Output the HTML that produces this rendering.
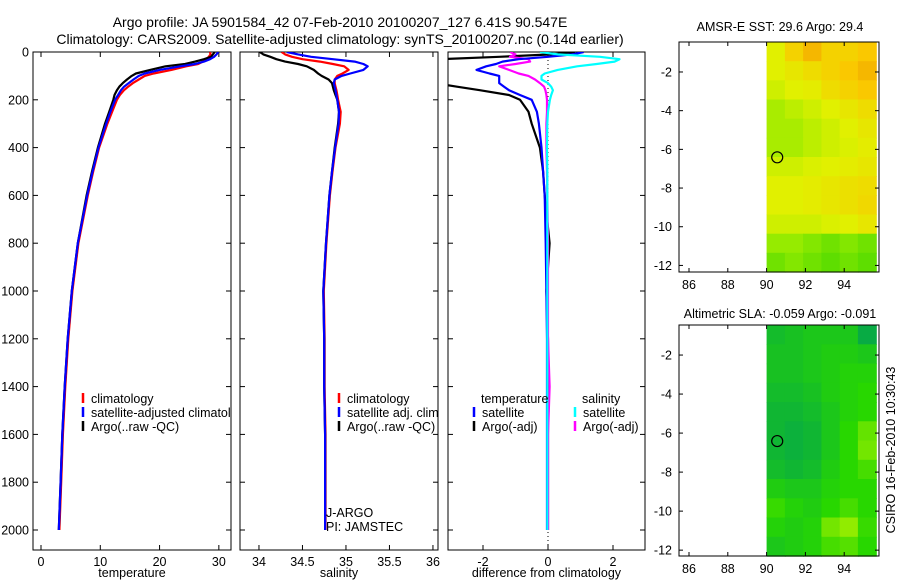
<!DOCTYPE html>
<html><head><meta charset="utf-8"><style>
html,body{margin:0;padding:0;background:#fff;}
svg{display:block;font-family:"Liberation Sans",sans-serif;}
</style></head><body>
<svg id="c" width="900" height="580" viewBox="0 0 900 580" xmlns="http://www.w3.org/2000/svg">
<defs>
<clipPath id="cp1"><rect x="33" y="52" width="198" height="498"/></clipPath>
<clipPath id="cp2"><rect x="240" y="52" width="198" height="498"/></clipPath>
<clipPath id="cp3"><rect x="448" y="52" width="197" height="498"/></clipPath>
</defs>
<text x="340" y="27" font-size="14" text-anchor="middle">Argo profile: JA 5901584_42 07-Feb-2010 20100207_127 6.41S 90.547E</text>
<text x="340" y="44" font-size="14" text-anchor="middle">Climatology: CARS2009. Satellite-adjusted climatology: synTS_20100207.nc (0.14d earlier)</text>
<text x="780" y="31" font-size="12.5" text-anchor="middle">AMSR-E SST: 29.6 Argo: 29.4</text>
<text x="780" y="318" font-size="12.5" text-anchor="middle">Altimetric SLA: -0.059 Argo: -0.091</text>
<text transform="translate(895,450) rotate(-90)" font-size="12.5" text-anchor="middle">CSIRO 16-Feb-2010 10:30:43</text>
<g id="g"></g>
</svg>
<script>
const depth=[0,10,20,30,40,50,60,75,90,100,115,130,145,160,180,200,250,300,400,500,600,800,1000,1200,1400,1600,1800,2000];
const tempClim=[28.5,28.6,28.3,27.8,27.3,26.5,24.5,22,19,17.5,16.5,15.5,14.7,14,13.3,12.8,12,11.2,9.8,8.8,7.9,6.3,5.3,4.6,4.1,3.7,3.4,3.1];
const tempSat=[29.9,29.6,29.2,28.5,27.5,26,23.5,20,17.5,16.5,15.6,14.8,14,13.5,13,12.5,11.7,11,9.7,8.7,7.8,6.2,5.2,4.5,4.0,3.6,3.3,3.0];
const tempArgo=[29.3,29,28.7,27.5,26,24.3,21,18.4,16,15.3,14.5,13.8,13.2,12.8,12.4,12.2,11.5,10.8,9.6,8.6,7.7,6.2,5.2,4.5,4.0,3.6,3.3,3.0];
const salClim=[34.26,34.3,34.38,34.5,34.7,34.85,34.98,35.03,34.96,34.9,34.87,34.87,34.88,34.89,34.9,34.91,34.94,34.93,34.88,34.845,34.815,34.775,34.745,34.755,34.755,34.765,34.765,34.765];
const salSat=[34.32,34.45,34.6,34.85,35.1,35.2,35.25,35.2,35.05,34.95,34.87,34.86,34.87,34.88,34.89,34.9,34.92,34.915,34.875,34.84,34.81,34.77,34.74,34.75,34.75,34.76,34.76,34.76];
const salArgo=[34.01,34.05,34.13,34.2,34.3,34.45,34.55,34.63,34.68,34.72,34.8,34.84,34.85,34.86,34.88,34.9,34.92,34.91,34.87,34.84,34.81,34.77,34.74,34.75,34.75,34.76,34.76,34.76];
const dTempSat=[1.1,0.75,0,-0.9,-1.4,-1.6,-1.9,-2.2,-1.8,-1.5,-1.5,-1.5,-1.35,-1.2,-0.86,-0.5,-0.34,-0.28,-0.2,-0.15,-0.1,-0.07,-0.05,-0.03,-0.03,-0.03,-0.03,-0.03];
const dTempArgo=[0.83,0.1,-1.5,-3.3,-4,-4,-4,-4,-4,-4,-4,-3.5,-2.8,-2.1,-1.2,-0.86,-0.6,-0.5,-0.25,-0.15,-0.1,0.05,-0.05,0,0,0,0,0];
const dSalSat=[-0.25,0.3,1.6,2.2,2.05,1.5,0.9,0.3,-0.1,-0.2,-0.2,0,0.1,0.15,0.1,0.06,0,-0.02,-0.03,-0.02,-0.02,-0.02,-0.02,-0.02,-0.02,-0.02,-0.02,-0.02];
const dSalArgo=[-1.17,-1.0,-1.17,-0.6,-0.55,-1.0,-1.5,-1.2,-0.9,-0.6,-0.4,-0.25,-0.12,-0.08,-0.05,-0.03,-0.03,-0.05,-0.05,-0.03,-0.02,0,0,0,0.05,0,0,0];
const depthTicks=[0,200,400,600,800,1000,1200,1400,1600,1800,2000];
const tempTicks=[0,10,20,30];
const salTicks=[34,34.5,35,35.5,36];
const diffTicks=[-2,0,2];
const sstGrid=[
[.6,.75,.85,.75,.75,.8],[.6,.65,.7,.75,.8,.85],[.55,.6,.62,.7,.75,.8],[.45,.5,.55,.6,.65,.7],
[.45,.45,.5,.55,.6,.65],[.45,.45,.5,.55,.58,.62],[.55,.55,.58,.6,.62,.65],[.6,.6,.62,.65,.68,.7],
[.6,.6,.62,.65,.68,.72],[.55,.55,.55,.58,.6,.65],[.4,.4,.35,.3,.35,.3],[.3,.35,.3,.25,.3,.25]];
const slaGrid=[
[.25,.3,.35,.35,.35,.1],[.3,.3,.35,.4,.4,.35],[.3,.3,.35,.4,.45,.45],[.25,.25,.3,.4,.45,.5],
[.2,.2,.25,.35,.45,.5],[.2,.15,.2,.35,.5,.7],[.2,.15,.2,.35,.5,.75],[.25,.2,.25,.4,.5,.6],
[.4,.35,.35,.45,.5,.5],[.55,.45,.4,.5,.6,.5],[.45,.4,.45,.75,.85,.55],[.35,.4,.45,.6,.65,.5]];
const lonTicks=[86,88,90,92,94];
const latTicks=[-2,-4,-6,-8,-10,-12];
const floatLon=90.547, floatLat=-6.41;

const NS='http://www.w3.org/2000/svg';
const G=document.getElementById('g');
function el(t,a,p){const e=document.createElementNS(NS,t);for(const k in a)e.setAttribute(k,a[k]);(p||G).appendChild(e);return e;}
function txt(x,y,s,anchor,size,p){const e=el('text',{x:x,y:y,'font-size':size||12.5,'text-anchor':anchor||'middle'},p);e.textContent=s;return e;}

const Y0=52,Y1=550;
const yD=d=>Y0+d*0.239;
function panel(name,x0,x1,vmin,vmax,xt,xtl,label,showY,clip){
  const xS=v=>x0+(v-vmin)/(vmax-vmin)*(x1-x0);
  const g=el('g',{});
  
  
  el('rect',{x:x0,y:Y0,width:x1-x0,height:Y1-Y0,fill:'none',stroke:'#000','stroke-width':1},g);
  xt.forEach((v,i)=>{const x=xS(v);
    el('line',{x1:x,y1:Y1,x2:x,y2:Y1-5,stroke:'#000'},g);
    el('line',{x1:x,y1:Y0,x2:x,y2:Y0+5,stroke:'#000'},g);
    const t=txt(x,566,xtl[i],'middle',12.5,g);
    
    });
  depthTicks.forEach(d=>{const y=yD(d);
    el('line',{x1:x0,y1:y,x2:x0+5,y2:y,stroke:'#000'},g);
    el('line',{x1:x1,y1:y,x2:x1-5,y2:y,stroke:'#000'},g);
    if(showY){const t=txt(29,y+4.5,String(d),'end',12.5,g);
      
      }});
  const xl=txt((x0+x1)/2,577,label,'middle',12.5,g);
  
  
  const cg=el('g',{'clip-path':'url(#'+clip+')'},g);
  return {xS,g,cg};
}
function series(P,vals,color,name){
  let d='';vals.forEach((v,i)=>{d+=(i?'L':'M')+P.xS(v).toFixed(1)+' '+yD(depth[i]).toFixed(1);});
  const p=el('path',{d:d,fill:'none',stroke:color,'stroke-width':2.2,'stroke-linejoin':'round'},P.cg);
  
  
}
function legendRow(P,x,y,color,label,name){
  const r=el('g',{},P.cg);
  
  
  el('line',{x1:x,y1:y-10,x2:x,y2:y,stroke:color,'stroke-width':2.5},r);
  txt(x+8,y,label,'start',12.5,r);
}

const P1=panel('temperature-panel',33,231,-1.35,32.05,tempTicks,tempTicks.map(String),'temperature',true,'cp1');
series(P1,tempClim,'#f00','temp-climatology-line');
series(P1,tempArgo,'#000','temp-argo-line');
series(P1,tempSat,'#00f','temp-satellite-line');
legendRow(P1,83,403,'#f00','climatology','legend-climatology');
legendRow(P1,83,417,'#00f','satellite-adjusted climatology','legend-satellite');
legendRow(P1,83,431,'#000','Argo(..raw -QC)','legend-argo');

const P2=panel('salinity-panel',240,438,33.782,36.058,salTicks,['34','34.5','35','35.5','36'],'salinity',false,'cp2');
series(P2,salClim,'#f00','sal-climatology-line');
series(P2,salArgo,'#000','sal-argo-line');
series(P2,salSat,'#00f','sal-satellite-line');
legendRow(P2,339,403,'#f00','climatology','legend-climatology');
legendRow(P2,339,417,'#00f','satellite adj. clim.','legend-satellite');
legendRow(P2,339,431,'#000','Argo(..raw -QC)','legend-argo');
txt(326,517,'J-ARGO','start',12.5,P2.g);
txt(326,531,'PI: JAMSTEC','start',12.5,P2.g);

const P3=panel('difference-panel',448,645,-3.077,2.985,diffTicks,['-2','0','2'],'difference from climatology',false,'cp3');
el('line',{x1:P3.xS(0),y1:Y0,x2:P3.xS(0),y2:Y1,stroke:'#000','stroke-dasharray':'1,3'},P3.cg);
series(P3,dTempArgo,'#000','dtemp-argo-line');
series(P3,dSalArgo,'#f0f','dsal-argo-line');
series(P3,dTempSat,'#00f','dtemp-satellite-line');
series(P3,dSalSat,'#0ff','dsal-satellite-line');
txt(481,403,'temperature','start',12.5,P3.cg);
txt(582,403,'salinity','start',12.5,P3.cg);
legendRow(P3,474,417,'#00f','satellite','legend-temp-satellite');
legendRow(P3,474,431,'#000','Argo(-adj)','legend-temp-argo');
legendRow(P3,575,417,'#0ff','satellite','legend-sal-satellite');
legendRow(P3,575,431,'#f0f','Argo(-adj)','legend-sal-argo');

function lerpC(stops,v){v=Math.max(0,Math.min(1,v));for(let i=1;i<stops.length;i++){if(v<=stops[i][0]){const a=stops[i-1],b=stops[i],t=(v-a[0])/(b[0]-a[0]);return 'rgb('+[1,2,3].map(k=>Math.round(a[k]+(b[k]-a[k])*t)).join(',')+')';}}}
const sstStops=[[0,0,200,0],[0.4,150,235,0],[0.6,225,240,0],[0.8,250,200,0],[1,230,130,0]];
const slaStops=[[0,0,160,85],[0.5,40,215,0],[1,190,245,0]];
function mapPanel(name,top,bot,latTop,latBot,grid,stops){
  const x0=679,x1=879;
  const lonS=l=>689+(l-86)*19.4;
  const latS=l=>top+(latTop-l)/(latTop-latBot)*(bot-top);
  const g=el('g',{});
  
  
  const rows=grid.length,cols=grid[0].length;
  const lonA=90,lonB=95.65;
  grid.forEach((row,r)=>row.forEach((v,c)=>{
    const xa=lonS(lonA+(lonB-lonA)*c/cols),xb=lonS(lonA+(lonB-lonA)*(c+1)/cols);
    const ya=latS(latTop+(latBot-latTop)*r/rows),yb=latS(latTop+(latBot-latTop)*(r+1)/rows);
    const cell=el('rect',{x:xa.toFixed(1),y:ya.toFixed(1),width:(xb-xa+0.6).toFixed(1),height:(yb-ya+0.6).toFixed(1),fill:lerpC(stops,v)},g);
    
    
  }));
  el('rect',{x:x0,y:top,width:x1-x0,height:bot-top,fill:'none',stroke:'#000'},g);
  lonTicks.forEach(l=>{const x=lonS(l);el('line',{x1:x,y1:bot,x2:x,y2:bot-4,stroke:'#000'},g);el('line',{x1:x,y1:top,x2:x,y2:top+4,stroke:'#000'},g);txt(x,bot+17,String(l),'middle',12.5,g);});
  latTicks.forEach(l=>{const y=latS(l);el('line',{x1:x0,y1:y,x2:x0+4,y2:y,stroke:'#000'},g);el('line',{x1:x1,y1:y,x2:x1-4,y2:y,stroke:'#000'},g);txt(672,y+4.5,String(l),'end',12.5,g);});
  const m=el('circle',{cx:lonS(floatLon),cy:latS(floatLat),r:5.5,fill:'none',stroke:'#000','stroke-width':1.2},g);
  
  
}
mapPanel('sst-map',42,272,-0.45,-12.34,sstGrid,sstStops);
mapPanel('sla-map',325,556,-0.46,-12.3,slaGrid,slaStops);
</script>
</body></html>
